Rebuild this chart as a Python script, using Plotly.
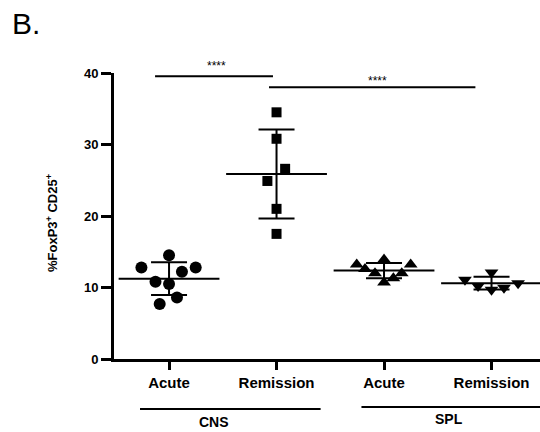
import numpy as np
import plotly.graph_objects as go

# ---- data ----
groups = ["CNS", "SPL"]
conditions = ["Acute", "Remission", "Acute", "Remission"]
cns_acute = [14.5, 12.8, 12.2, 12.8, 10.8, 10.5, 8.6, 7.7]
cns_remission = [34.5, 30.8, 26.6, 24.9, 21.0, 17.5]
spl_acute = [13.2, 12.6, 13.9, 13.2, 12.0, 11.3, 12.0, 10.7]
spl_remission = [11.1, 10.2, 12.1, 9.7, 9.95, 10.6]
# horizontal scatter of points within each column (category units)
cns_acute_jit = [0, -0.257, 0.12, 0.248, -0.126, 0, 0.074, -0.087]
cns_remission_jit = [0, 0, 0.08, -0.085, 0, 0]
spl_acute_jit = [-0.254, -0.177, 0, 0.248, -0.084, 0.087, 0.165, 0]
spl_remission_jit = [-0.247, -0.125, 0, 0, 0.116, 0.247]
y_ticks = [0, 10, 20, 30, 40]
sig_labels = ["****", "****"]

series = [
    (cns_acute, cns_acute_jit, "circle", 12),
    (cns_remission, cns_remission_jit, "square", 10),
    (spl_acute, spl_acute_jit, "triangle-up", 12),
    (spl_remission, spl_remission_jit, "triangle-down", 12),
]

FONT = "Arial, Liberation Sans, sans-serif"
fig = go.Figure()

for i, (vals, jit, sym, sz) in enumerate(series):
    v = np.array(vals)
    m = v.mean()
    sd = v.std(ddof=1)
    # mean line + SD error bar
    fig.add_trace(go.Scatter(
        x=[i], y=[m], mode="markers",
        marker=dict(symbol="line-ew", size=72, line=dict(width=2, color="black")),
        error_y=dict(type="data", array=[sd], visible=True, color="black", thickness=2, width=18),
        showlegend=False, hoverinfo="skip"))
    fig.add_trace(go.Scatter(
        x=[i + j for j in jit], y=vals, mode="markers",
        marker=dict(symbol=sym, size=sz, color="black", line=dict(width=0)),
        showlegend=False))

# significance bars
fig.add_shape(type="line", xref="x", yref="y", x0=-0.13, x1=0.967, y0=39.55, y1=39.55,
              line=dict(color="black", width=2))
fig.add_shape(type="line", xref="x", yref="y", x0=0.93, x1=2.85, y0=38.0, y1=38.0,
              line=dict(color="black", width=2))
fig.add_annotation(x=0.44, y=1.024, xref="x", yref="paper", text=sig_labels[0], showarrow=False,
                   yanchor="middle", font=dict(family=FONT, size=12, color="black"))
fig.add_annotation(x=1.94, y=0.972, xref="x", yref="paper", text=sig_labels[1], showarrow=False,
                   yanchor="middle", font=dict(family=FONT, size=12, color="black"))

# group lines and labels under the axis
fig.add_shape(type="line", xref="x", yref="paper", x0=-0.27, x1=1.41, y0=-0.175, y1=-0.175,
              line=dict(color="black", width=2))
fig.add_shape(type="line", xref="x", yref="paper", x0=1.79, x1=3.6, y0=-0.168, y1=-0.168,
              line=dict(color="black", width=2))
fig.add_annotation(x=0.42, y=-0.221, xref="x", yref="paper", text=groups[0], showarrow=False,
                   yanchor="middle",
                   font=dict(family=FONT, size=14, color="black", weight="bold"))
fig.add_annotation(x=2.6, y=-0.21, xref="x", yref="paper", text=groups[1], showarrow=False,
                   yanchor="middle",
                   font=dict(family=FONT, size=14, color="black", weight="bold"))

# y title
fig.add_annotation(x=-0.1455, y=0.4755, xref="paper", yref="paper",
                   text="%FoxP3<sup>+</sup> CD25<sup>+</sup>", textangle=-90, showarrow=False,
                   xanchor="center", yanchor="middle",
                   font=dict(family=FONT, size=13, color="black", weight="bold"))

fig.update_layout(
    width=540, height=432,
    margin=dict(l=114, r=0, t=73, b=73, autoexpand=False),
    plot_bgcolor="white", paper_bgcolor="white",
    title=dict(text="B.", x=12/540, xanchor="left", y=1-23/432, yanchor="middle",
               xref="container", yref="container",
               font=dict(family=FONT, size=30, color="black")),
    xaxis=dict(range=[-0.512, 3.451], tickvals=[0, 1, 2, 3], ticktext=conditions,
               showline=True, linewidth=3, linecolor="black", ticks="outside",
               ticklen=8, tickwidth=3, tickcolor="black", showgrid=False, zeroline=False,
               automargin=False,
               tickfont=dict(family=FONT, size=15, color="black", weight="bold")),
    yaxis=dict(range=[0, 40], tickvals=y_ticks, showline=True, linewidth=3, linecolor="black",
               ticks="outside", ticklen=10, tickwidth=3, tickcolor="black", showgrid=False,
               zeroline=False, automargin=False,
               tickfont=dict(family=FONT, size=13, color="black", weight="bold")),
)

fig.write_html("out.html", config={"displayModeBar": False},
               post_script="document.body.style.margin='0';")
